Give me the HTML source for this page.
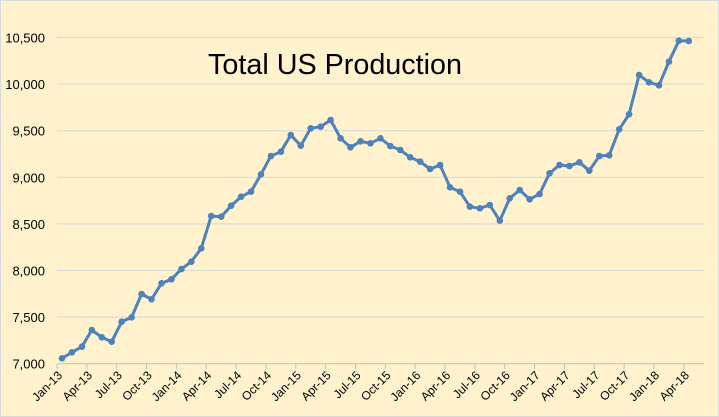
<!DOCTYPE html>
<html><head><meta charset="utf-8"><style>
html,body{margin:0;padding:0;background:#fff;}
svg{display:block;font-family:"Liberation Sans",sans-serif;}
</style></head><body>
<svg id="c" width="719" height="417" xmlns="http://www.w3.org/2000/svg">
<rect x="0.5" y="0.5" width="718" height="416" fill="#FFF2CC" stroke="#D9D9D9"/>
<g id="grid"></g>
<text x="208" y="74" font-size="29" fill="#000" textLength="254" lengthAdjust="spacingAndGlyphs">Total US Production</text>
<g id="ser"></g>
</svg>
<script>
var yz=[1075,1057,1040,990,1012,1025,965,952,882,898,850,838,807,785,745,648,650,617,590,575,523,468,455,405,437,385,380,360,415,442,424,430,415,438,450,472,485,507,495,562,575,620,625,615,662,595,570,598,582,520,495,498,487,512,468,466,388,343,225,247,256,185,122,123];
var ns="http://www.w3.org/2000/svg",g=document.getElementById('grid'),s=document.getElementById('ser');
function el(t,a,p,tx){var e=document.createElementNS(ns,t);for(var k in a)e.setAttribute(k,a[k]);if(tx)e.textContent=tx;p.appendChild(e);return e;}
var labs=["10,500","10,000","9,500","9,000","8,500","8,000","7,500","7,000"];
for(var i=0;i<8;i++){var y=37.5+i*46.6;
 el('line',{x1:57,x2:704,y1:y,y2:y,stroke:i==7?'#BFBFBF':'#D9D9D9','stroke-width':1},g);
 el('text',{x:45,y:y+5,'font-size':13,'text-anchor':'end',fill:'#000'},g,labs[i]);}
var w=9.95,m=["Jan","Apr","Jul","Oct"];
for(var k=0;k<=21;k++){var x=57+k*3*w;
 el('line',{x1:x,x2:x,y1:364,y2:369,stroke:'#BFBFBF'},g);
 if(k<22&&k*3<64){var yr=13+Math.floor(k/4);var L=m[k%4]+"-"+yr;
 el('text',{x:0,y:0,'font-size':12,'text-anchor':'end',fill:'#000',transform:'translate('+(x+6)+',376) rotate(-45)'},g,L);}}
var pts=yz.map(function(v,i){return [(57+(i+0.5)*w).toFixed(1),(v/3).toFixed(1)];});
el('polyline',{points:pts.map(function(p){return p.join(',')}).join(' '),fill:'none',stroke:'#4F81BD','stroke-width':3,'stroke-linejoin':'round'},s);
pts.forEach(function(p){el('circle',{cx:p[0],cy:p[1],r:3.3,fill:'#4F81BD'},s);});
</script>
</body></html>
